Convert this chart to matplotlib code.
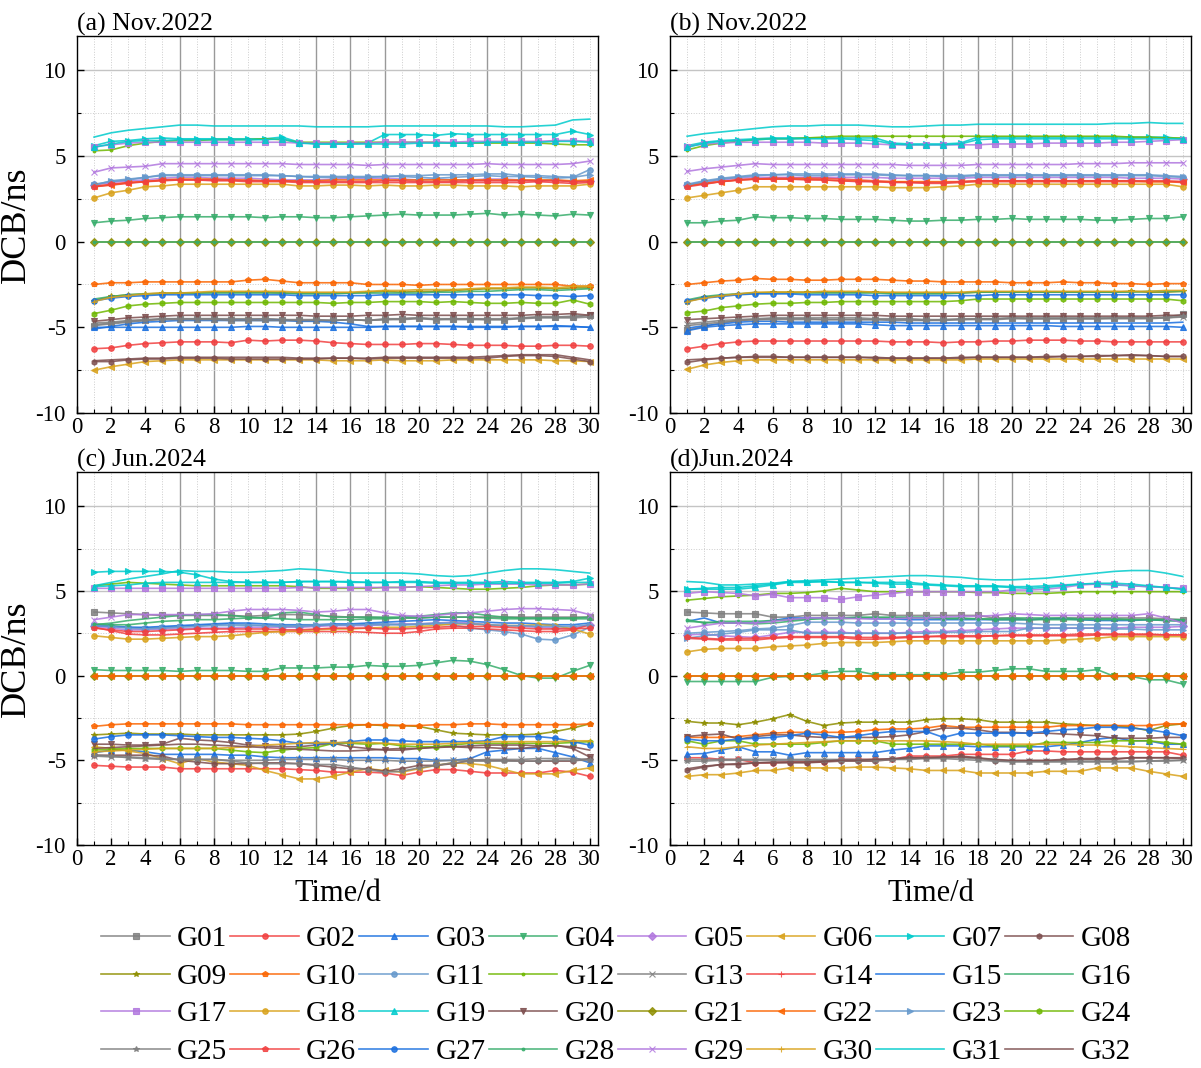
import numpy as np
import matplotlib
matplotlib.use("Agg")
import matplotlib.pyplot as plt
from matplotlib.ticker import MultipleLocator

plt.rcParams['font.family'] = ['Liberation Serif', 'DejaVu Serif']
plt.rcParams['axes.unicode_minus'] = False

days = np.arange(1, 31)
names = ["G%02d" % i for i in range(1, 33)]
titles = ["(a) Nov.2022", "(b) Nov.2022", "(c) Jun.2024", "(d)Jun.2024"]

Z = [0.0] * 30

# panel (a) Nov.2022
dcb_a = [
    [-4.9,-4.8,-4.7,-4.6,-4.5,-4.5,-4.5,-4.5,-4.55,-4.55,-4.5,-4.55,-4.55,-4.55,-4.6,-4.55,-4.6,-4.5,-4.5,-4.45,-4.55,-4.5,-4.5,-4.55,-4.55,-4.45,-4.4,-4.4,-4.4,-4.3],
    [-6.25,-6.2,-6.05,-5.95,-5.9,-5.85,-5.85,-5.85,-5.9,-5.75,-5.8,-5.75,-5.75,-5.8,-5.9,-5.95,-6.0,-6.0,-6.0,-5.95,-5.95,-6.0,-6.05,-6.05,-6.05,-6.1,-6.1,-6.05,-6.05,-6.1],
    [-5.0,-5.0,-5.0,-5.0,-5.0,-5.0,-5.0,-5.0,-5.0,-4.95,-4.95,-5.0,-5.0,-5.0,-5.0,-5.0,-5.0,-4.95,-4.95,-4.95,-4.95,-4.95,-4.95,-4.95,-4.95,-4.95,-4.95,-4.9,-4.95,-5.0],
    [1.1,1.2,1.25,1.35,1.4,1.45,1.45,1.45,1.45,1.45,1.4,1.45,1.45,1.4,1.4,1.45,1.5,1.55,1.6,1.55,1.55,1.55,1.6,1.65,1.55,1.6,1.55,1.5,1.6,1.55],
    [3.3,3.45,3.55,3.6,3.7,3.75,3.75,3.7,3.7,3.7,3.65,3.6,3.6,3.6,3.65,3.7,3.7,3.7,3.65,3.6,3.65,3.6,3.6,3.65,3.65,3.6,3.55,3.6,3.5,3.55],
    [-7.5,-7.3,-7.15,-7.0,-6.95,-6.9,-6.9,-6.9,-6.9,-6.9,-6.9,-6.9,-6.9,-6.9,-6.95,-6.95,-6.95,-6.9,-6.95,-6.95,-6.95,-6.9,-6.9,-6.9,-6.9,-6.9,-6.9,-6.95,-6.95,-7.0],
    [5.6,5.85,5.9,6.0,6.05,6.0,6.0,6.0,6.0,6.0,6.0,6.1,5.8,5.7,5.7,5.7,5.75,6.25,6.25,6.25,6.2,6.3,6.25,6.25,6.25,6.25,6.25,6.25,6.45,6.25],
    [-7.0,-7.0,-6.9,-6.85,-6.85,-6.8,-6.8,-6.8,-6.85,-6.85,-6.85,-6.85,-6.85,-6.85,-6.8,-6.8,-6.85,-6.8,-6.8,-6.8,-6.8,-6.8,-6.8,-6.8,-6.7,-6.65,-6.65,-6.7,-6.85,-7.0],
    [-3.45,-3.2,-3.1,-3.05,-3.0,-3.0,-3.0,-2.95,-2.95,-2.95,-2.95,-3.0,-3.0,-3.0,-3.0,-3.0,-2.95,-2.9,-2.95,-2.9,-2.9,-2.85,-2.8,-2.75,-2.75,-2.7,-2.7,-2.75,-2.7,-2.7],
    [-2.5,-2.4,-2.4,-2.35,-2.35,-2.35,-2.35,-2.35,-2.35,-2.25,-2.2,-2.3,-2.4,-2.4,-2.4,-2.4,-2.5,-2.5,-2.5,-2.55,-2.5,-2.5,-2.5,-2.5,-2.5,-2.5,-2.5,-2.5,-2.6,-2.6],
    [3.35,3.5,3.6,3.75,3.9,3.9,3.9,3.9,3.9,3.9,3.9,3.85,3.8,3.75,3.75,3.75,3.75,3.8,3.8,3.75,3.7,3.75,3.8,3.85,3.8,3.8,3.75,3.7,3.75,4.2],
    [5.3,5.35,5.6,5.75,5.85,5.9,5.9,5.95,5.95,5.95,6.0,5.95,5.8,5.8,5.8,5.8,5.8,5.8,5.8,5.8,5.8,5.75,5.75,5.75,5.75,5.75,5.75,5.7,5.65,5.65],
    [-4.75,-4.7,-4.6,-4.55,-4.5,-4.5,-4.5,-4.5,-4.5,-4.5,-4.5,-4.55,-4.6,-4.6,-4.6,-4.55,-4.6,-4.55,-4.5,-4.45,-4.5,-4.5,-4.5,-4.5,-4.5,-4.45,-4.4,-4.4,-4.35,-4.3],
    [3.2,3.3,3.4,3.5,3.55,3.6,3.6,3.55,3.55,3.5,3.5,3.5,3.45,3.45,3.45,3.45,3.45,3.45,3.45,3.45,3.45,3.45,3.45,3.45,3.45,3.45,3.5,3.45,3.4,3.45],
    [-5.1,-4.95,-4.8,-4.7,-4.65,-4.6,-4.6,-4.6,-4.6,-4.6,-4.6,-4.6,-4.65,-4.65,-4.7,-4.8,-4.95,-4.95,-4.95,-4.95,-4.95,-4.95,-5.0,-5.0,-5.0,-4.95,-4.95,-4.95,-4.95,-5.0],
    [-3.35,-3.2,-3.1,-3.05,-3.05,-3.0,-3.0,-3.0,-3.0,-3.0,-3.0,-3.0,-3.05,-3.05,-3.05,-3.0,-3.0,-3.0,-3.0,-3.0,-2.95,-2.95,-2.9,-2.9,-2.85,-2.8,-2.8,-2.85,-2.8,-2.75],
    [5.55,5.65,5.75,5.8,5.8,5.8,5.8,5.8,5.8,5.8,5.8,5.8,5.75,5.75,5.75,5.75,5.75,5.8,5.8,5.8,5.8,5.8,5.85,5.85,5.85,5.85,5.85,5.9,5.9,5.85],
    [2.55,2.85,3.0,3.2,3.25,3.35,3.35,3.35,3.35,3.35,3.35,3.35,3.25,3.25,3.3,3.3,3.25,3.3,3.25,3.25,3.3,3.3,3.25,3.25,3.25,3.2,3.25,3.25,3.25,3.35],
    [5.5,5.7,5.85,5.9,5.9,5.95,5.95,5.95,5.95,5.95,5.95,6.0,5.75,5.7,5.7,5.7,5.7,5.7,5.7,5.75,5.75,5.75,5.75,5.8,5.8,5.8,5.8,5.85,5.85,5.8],
    [-4.65,-4.55,-4.45,-4.4,-4.35,-4.3,-4.3,-4.3,-4.3,-4.3,-4.3,-4.3,-4.3,-4.35,-4.35,-4.35,-4.3,-4.3,-4.25,-4.3,-4.3,-4.3,-4.3,-4.3,-4.3,-4.3,-4.25,-4.25,-4.2,-4.3],
    Z,
    [3.25,3.3,3.45,3.5,3.6,3.65,3.65,3.65,3.6,3.6,3.55,3.55,3.55,3.55,3.6,3.6,3.6,3.6,3.6,3.6,3.6,3.6,3.6,3.6,3.6,3.6,3.6,3.6,3.55,3.6],
    [3.3,3.55,3.65,3.75,3.85,3.85,3.85,3.85,3.85,3.85,3.85,3.85,3.8,3.8,3.8,3.8,3.8,3.8,3.85,3.85,3.9,3.9,3.9,3.95,3.95,3.85,3.85,3.8,3.75,3.9],
    [-4.2,-4.0,-3.75,-3.65,-3.6,-3.55,-3.55,-3.55,-3.55,-3.55,-3.55,-3.55,-3.55,-3.55,-3.6,-3.55,-3.55,-3.5,-3.5,-3.5,-3.55,-3.5,-3.55,-3.6,-3.6,-3.55,-3.6,-3.6,-3.4,-3.65],
    [-4.85,-4.75,-4.65,-4.6,-4.55,-4.55,-4.55,-4.55,-4.6,-4.6,-4.6,-4.6,-4.6,-4.6,-4.6,-4.55,-4.6,-4.55,-4.55,-4.5,-4.55,-4.55,-4.55,-4.55,-4.55,-4.5,-4.45,-4.45,-4.45,-4.4],
    [3.2,3.35,3.45,3.5,3.6,3.6,3.6,3.6,3.6,3.55,3.55,3.55,3.5,3.5,3.5,3.5,3.5,3.55,3.55,3.5,3.5,3.5,3.55,3.55,3.55,3.55,3.55,3.55,3.5,3.5],
    [-3.45,-3.3,-3.2,-3.15,-3.1,-3.1,-3.1,-3.1,-3.1,-3.1,-3.1,-3.1,-3.15,-3.15,-3.15,-3.15,-3.15,-3.1,-3.1,-3.1,-3.1,-3.1,-3.1,-3.1,-3.1,-3.1,-3.15,-3.15,-3.2,-3.15],
    Z,
    [4.05,4.3,4.35,4.4,4.55,4.55,4.55,4.55,4.55,4.55,4.55,4.55,4.5,4.5,4.5,4.5,4.45,4.5,4.5,4.5,4.5,4.5,4.5,4.55,4.5,4.5,4.5,4.5,4.55,4.7],
    [-3.5,-3.25,-3.15,-3.05,-3.0,-3.0,-2.95,-2.9,-2.9,-2.9,-2.9,-2.9,-2.95,-2.95,-2.95,-2.95,-2.9,-2.85,-2.85,-2.8,-2.8,-2.8,-2.75,-2.7,-2.7,-2.65,-2.65,-2.7,-2.6,-2.6],
    [6.1,6.35,6.5,6.6,6.7,6.8,6.8,6.75,6.75,6.75,6.75,6.75,6.75,6.7,6.7,6.7,6.7,6.75,6.75,6.75,6.75,6.75,6.75,6.75,6.7,6.7,6.75,6.8,7.1,7.15],
    [-6.95,-6.9,-6.85,-6.8,-6.8,-6.75,-6.75,-6.75,-6.75,-6.75,-6.75,-6.75,-6.8,-6.8,-6.8,-6.8,-6.8,-6.75,-6.75,-6.75,-6.75,-6.75,-6.75,-6.7,-6.65,-6.6,-6.6,-6.6,-6.75,-6.9],
]

# panel (b) Nov.2022
dcb_b = [
    [-5.15,-4.95,-4.75,-4.6,-4.55,-4.5,-4.5,-4.5,-4.55,-4.55,-4.55,-4.55,-4.55,-4.55,-4.6,-4.55,-4.55,-4.5,-4.5,-4.45,-4.5,-4.5,-4.5,-4.5,-4.5,-4.45,-4.45,-4.45,-4.4,-4.25],
    [-6.25,-6.1,-5.95,-5.85,-5.8,-5.8,-5.8,-5.8,-5.8,-5.8,-5.8,-5.8,-5.85,-5.85,-5.85,-5.9,-5.85,-5.85,-5.8,-5.8,-5.75,-5.75,-5.75,-5.8,-5.8,-5.85,-5.85,-5.85,-5.85,-5.85],
    [-5.2,-5.0,-4.9,-4.85,-4.8,-4.8,-4.8,-4.8,-4.8,-4.8,-4.8,-4.85,-4.9,-4.9,-4.9,-4.9,-4.9,-4.9,-4.9,-4.9,-4.9,-4.9,-4.95,-4.95,-4.95,-4.95,-4.95,-4.95,-4.95,-5.0],
    [1.1,1.1,1.2,1.25,1.45,1.4,1.4,1.35,1.35,1.3,1.3,1.3,1.25,1.2,1.2,1.25,1.25,1.3,1.3,1.35,1.3,1.3,1.3,1.3,1.25,1.25,1.3,1.35,1.35,1.45],
    [3.3,3.45,3.6,3.7,3.75,3.75,3.75,3.75,3.75,3.75,3.75,3.75,3.7,3.7,3.7,3.7,3.7,3.75,3.75,3.75,3.75,3.75,3.75,3.75,3.75,3.75,3.7,3.7,3.7,3.65],
    [-7.45,-7.2,-7.05,-6.95,-6.9,-6.9,-6.9,-6.9,-6.9,-6.9,-6.9,-6.9,-6.9,-6.9,-6.9,-6.9,-6.9,-6.85,-6.85,-6.85,-6.85,-6.85,-6.85,-6.85,-6.85,-6.85,-6.85,-6.85,-6.85,-6.85],
    [5.6,5.8,5.9,5.95,6.0,6.05,6.05,6.05,6.05,6.05,6.05,6.05,5.75,5.7,5.7,5.7,5.75,6.1,6.1,6.1,6.1,6.1,6.1,6.1,6.1,6.1,6.1,6.1,6.1,6.0],
    [-7.05,-6.9,-6.8,-6.75,-6.7,-6.7,-6.75,-6.75,-6.75,-6.75,-6.75,-6.8,-6.8,-6.8,-6.8,-6.8,-6.75,-6.75,-6.75,-6.75,-6.75,-6.7,-6.7,-6.7,-6.65,-6.65,-6.65,-6.65,-6.7,-6.7],
    [-3.5,-3.25,-3.15,-3.05,-3.0,-2.95,-2.95,-2.95,-2.95,-2.95,-2.95,-2.95,-3.0,-3.0,-3.0,-3.0,-3.0,-2.95,-2.95,-2.95,-2.95,-2.95,-2.95,-2.95,-2.95,-2.95,-2.9,-2.95,-2.95,-2.9],
    [-2.5,-2.4,-2.3,-2.25,-2.15,-2.2,-2.2,-2.25,-2.25,-2.2,-2.2,-2.2,-2.25,-2.3,-2.3,-2.35,-2.35,-2.35,-2.35,-2.4,-2.4,-2.4,-2.35,-2.4,-2.4,-2.45,-2.45,-2.5,-2.45,-2.45],
    [3.35,3.55,3.7,3.8,3.9,3.9,3.9,3.85,3.85,3.9,3.9,3.9,3.85,3.85,3.85,3.8,3.8,3.85,3.85,3.85,3.85,3.85,3.85,3.85,3.85,3.85,3.85,3.85,3.8,3.75],
    [5.35,5.6,5.75,5.85,5.95,6.0,6.0,6.05,6.1,6.15,6.15,6.15,6.15,6.15,6.15,6.15,6.15,6.15,6.15,6.15,6.15,6.15,6.15,6.15,6.15,6.15,6.1,6.1,6.05,6.05],
    [-4.8,-4.7,-4.6,-4.55,-4.5,-4.45,-4.45,-4.45,-4.45,-4.45,-4.45,-4.5,-4.5,-4.5,-4.55,-4.55,-4.5,-4.5,-4.5,-4.45,-4.45,-4.45,-4.45,-4.45,-4.45,-4.45,-4.45,-4.45,-4.45,-4.4],
    [3.25,3.4,3.5,3.6,3.65,3.7,3.7,3.7,3.7,3.65,3.6,3.55,3.5,3.45,3.4,3.4,3.45,3.5,3.5,3.5,3.5,3.5,3.5,3.5,3.5,3.5,3.5,3.5,3.5,3.45],
    [-5.05,-4.9,-4.8,-4.7,-4.65,-4.65,-4.7,-4.7,-4.7,-4.7,-4.7,-4.7,-4.7,-4.75,-4.75,-4.75,-4.75,-4.75,-4.75,-4.75,-4.75,-4.75,-4.75,-4.75,-4.75,-4.75,-4.75,-4.75,-4.75,-4.7],
    [-3.4,-3.2,-3.1,-3.05,-3.0,-3.0,-3.0,-3.0,-3.0,-3.0,-3.0,-3.0,-3.05,-3.05,-3.05,-3.05,-3.0,-2.95,-2.95,-2.95,-2.95,-2.95,-2.95,-2.95,-2.95,-2.95,-2.95,-2.9,-2.9,-2.9],
    [5.55,5.7,5.75,5.8,5.8,5.8,5.8,5.8,5.75,5.75,5.75,5.7,5.65,5.65,5.65,5.65,5.65,5.65,5.7,5.7,5.7,5.75,5.75,5.75,5.75,5.8,5.8,5.85,5.9,5.95],
    [2.55,2.7,2.85,3.0,3.2,3.2,3.2,3.2,3.2,3.2,3.2,3.2,3.15,3.15,3.15,3.2,3.25,3.35,3.35,3.35,3.35,3.35,3.35,3.35,3.35,3.35,3.35,3.35,3.35,3.2],
    [5.5,5.75,5.85,5.9,5.95,6.0,6.0,6.0,6.0,6.0,5.95,5.9,5.7,5.65,5.65,5.65,5.7,5.95,6.0,6.0,6.0,6.0,6.0,6.0,6.0,6.0,6.0,6.0,6.0,6.0],
    [-4.55,-4.5,-4.45,-4.4,-4.35,-4.3,-4.3,-4.3,-4.3,-4.3,-4.3,-4.3,-4.35,-4.35,-4.35,-4.35,-4.35,-4.35,-4.35,-4.35,-4.35,-4.35,-4.35,-4.35,-4.35,-4.35,-4.35,-4.35,-4.3,-4.3],
    Z,
    [3.25,3.4,3.5,3.6,3.65,3.65,3.65,3.65,3.6,3.55,3.55,3.5,3.5,3.5,3.5,3.5,3.5,3.55,3.55,3.55,3.55,3.55,3.55,3.55,3.55,3.55,3.55,3.5,3.5,3.5],
    [3.3,3.5,3.65,3.75,3.85,3.9,3.95,3.95,3.95,3.95,3.95,3.95,3.9,3.85,3.85,3.85,3.85,3.9,3.9,3.9,3.9,3.9,3.9,3.9,3.9,3.9,3.9,3.9,3.85,3.8],
    [-4.15,-4.05,-3.85,-3.75,-3.65,-3.6,-3.6,-3.55,-3.55,-3.5,-3.5,-3.5,-3.5,-3.5,-3.5,-3.5,-3.45,-3.35,-3.35,-3.35,-3.35,-3.35,-3.35,-3.35,-3.35,-3.35,-3.35,-3.35,-3.35,-3.45],
    [-4.9,-4.8,-4.7,-4.6,-4.55,-4.55,-4.55,-4.55,-4.55,-4.55,-4.55,-4.55,-4.6,-4.6,-4.6,-4.6,-4.55,-4.55,-4.55,-4.5,-4.5,-4.5,-4.5,-4.5,-4.5,-4.5,-4.5,-4.5,-4.45,-4.35],
    [3.2,3.35,3.5,3.6,3.65,3.65,3.65,3.6,3.6,3.55,3.5,3.5,3.45,3.45,3.45,3.45,3.5,3.55,3.55,3.55,3.55,3.55,3.55,3.55,3.55,3.55,3.55,3.55,3.55,3.5],
    [-3.45,-3.3,-3.2,-3.1,-3.05,-3.05,-3.05,-3.1,-3.1,-3.1,-3.1,-3.15,-3.15,-3.15,-3.15,-3.15,-3.15,-3.15,-3.1,-3.1,-3.1,-3.1,-3.1,-3.1,-3.1,-3.1,-3.1,-3.1,-3.1,-3.1],
    Z,
    [4.1,4.25,4.35,4.45,4.55,4.5,4.5,4.5,4.5,4.5,4.5,4.5,4.5,4.45,4.45,4.45,4.45,4.5,4.5,4.5,4.5,4.5,4.5,4.55,4.55,4.55,4.6,4.6,4.6,4.6],
    [-3.5,-3.3,-3.15,-3.05,-2.95,-2.95,-2.95,-2.95,-2.9,-2.9,-2.9,-2.95,-2.95,-2.95,-2.95,-2.95,-2.95,-2.9,-2.9,-2.9,-2.9,-2.9,-2.9,-2.9,-2.9,-2.9,-2.9,-2.9,-2.85,-2.85],
    [6.15,6.3,6.4,6.5,6.6,6.7,6.75,6.75,6.8,6.8,6.8,6.75,6.7,6.7,6.75,6.8,6.8,6.85,6.85,6.85,6.85,6.85,6.85,6.85,6.85,6.9,6.9,6.95,6.9,6.9],
    [-6.9,-6.85,-6.8,-6.75,-6.75,-6.75,-6.75,-6.75,-6.75,-6.75,-6.75,-6.75,-6.8,-6.8,-6.8,-6.8,-6.8,-6.75,-6.75,-6.75,-6.75,-6.75,-6.7,-6.7,-6.7,-6.65,-6.6,-6.65,-6.7,-6.7],
]

# panel (c) Jun.2024
dcb_c = [
    [3.75,3.7,3.65,3.6,3.55,3.55,3.55,3.55,3.55,3.5,3.55,3.6,3.6,3.55,3.5,3.45,3.45,3.4,3.4,3.4,3.45,3.45,3.45,3.45,3.45,3.45,3.45,3.45,3.45,3.45],
    [-5.3,-5.35,-5.4,-5.4,-5.4,-5.5,-5.5,-5.5,-5.5,-5.5,-5.5,-5.5,-5.55,-5.6,-5.7,-5.7,-5.7,-5.75,-5.9,-5.7,-5.55,-5.55,-5.65,-5.75,-5.75,-5.75,-5.75,-5.6,-5.7,-5.95],
    [-4.55,-4.4,-4.4,-4.5,-4.65,-4.65,-4.65,-4.65,-4.7,-4.7,-4.8,-4.85,-4.85,-4.85,-4.85,-4.85,-4.85,-4.85,-4.9,-4.9,-5.0,-5.0,-4.9,-4.5,-4.4,-4.3,-4.3,-4.55,-4.8,-5.15],
    [0.35,0.3,0.3,0.3,0.3,0.25,0.3,0.3,0.3,0.25,0.25,0.45,0.45,0.45,0.5,0.5,0.6,0.55,0.55,0.6,0.75,0.9,0.85,0.65,0.35,0.0,-0.15,-0.15,0.25,0.6],
    [2.9,2.8,2.7,2.7,2.75,2.75,2.8,2.8,2.8,2.85,2.85,2.85,2.85,2.9,2.95,2.95,2.95,3.0,3.05,3.05,3.1,3.15,3.1,3.0,2.95,2.9,2.85,2.8,2.8,3.0],
    [-4.2,-4.3,-4.45,-4.6,-4.9,-5.2,-4.9,-5.1,-5.2,-5.3,-5.6,-5.85,-6.1,-6.1,-5.95,-5.7,-5.5,-5.6,-5.7,-5.5,-5.3,-5.15,-5.2,-5.3,-5.55,-5.8,-5.8,-5.8,-5.6,-5.45],
    [6.1,6.15,6.15,6.15,6.15,6.1,5.95,5.7,5.55,5.5,5.5,5.5,5.55,5.55,5.55,5.5,5.5,5.5,5.55,5.55,5.5,5.5,5.5,5.5,5.55,5.5,5.5,5.5,5.55,5.75],
    [-4.7,-4.7,-4.7,-4.7,-4.75,-5.0,-5.1,-5.2,-5.2,-5.2,-5.15,-5.15,-5.2,-5.3,-5.4,-5.5,-5.5,-5.65,-5.5,-5.3,-5.3,-5.2,-5.0,-5.0,-5.0,-5.05,-5.05,-5.05,-5.05,-4.9],
    [-3.5,-3.45,-3.4,-3.45,-3.45,-3.45,-3.5,-3.5,-3.5,-3.5,-3.5,-3.5,-3.45,-3.3,-3.1,-2.95,-2.9,-2.95,-2.95,-3.0,-3.2,-3.4,-3.45,-3.5,-3.5,-3.5,-3.45,-3.3,-3.1,-2.85],
    [-3.0,-2.9,-2.85,-2.85,-2.85,-2.85,-2.85,-2.85,-2.85,-2.9,-2.9,-2.9,-2.9,-2.9,-2.9,-2.9,-2.9,-2.9,-2.95,-2.95,-2.9,-2.9,-2.85,-2.85,-2.9,-2.9,-2.9,-2.9,-2.9,-2.85],
    [3.0,2.95,2.85,2.8,2.85,2.9,2.95,3.0,3.05,3.0,2.95,2.9,2.9,2.95,3.0,3.0,3.05,3.05,3.0,3.0,3.05,3.0,2.8,2.7,2.6,2.45,2.15,2.1,2.4,2.85],
    [5.3,5.4,5.5,5.45,5.4,5.35,5.3,5.3,5.3,5.3,5.3,5.3,5.25,5.15,5.15,5.15,5.15,5.2,5.2,5.25,5.2,5.15,5.1,5.1,5.15,5.2,5.3,5.35,5.35,5.4],
    [-4.75,-4.8,-4.8,-4.85,-4.9,-4.95,-4.95,-4.95,-5.0,-5.0,-5.0,-4.95,-4.95,-4.95,-4.95,-5.0,-5.0,-5.0,-5.05,-5.05,-5.05,-5.0,-5.0,-4.95,-4.95,-4.95,-4.9,-4.9,-4.9,-4.95],
    [2.85,2.65,2.45,2.4,2.4,2.45,2.5,2.55,2.6,2.6,2.6,2.6,2.6,2.6,2.6,2.6,2.55,2.5,2.5,2.6,2.75,2.8,2.8,2.75,2.7,2.65,2.6,2.6,2.7,3.0],
    [2.95,2.9,2.85,2.85,2.9,2.95,3.0,3.05,3.1,3.1,3.05,3.0,3.0,3.0,3.05,3.05,3.1,3.15,3.2,3.25,3.3,3.25,3.2,3.15,3.1,3.1,3.05,3.0,3.0,3.1],
    [3.0,3.1,3.25,3.35,3.45,3.55,3.6,3.6,3.55,3.45,3.4,3.7,3.75,3.6,3.45,3.45,3.45,3.45,3.45,3.5,3.6,3.7,3.7,3.55,3.45,3.4,3.4,3.4,3.4,3.45],
    [5.15,5.15,5.15,5.15,5.15,5.15,5.15,5.15,5.15,5.15,5.15,5.15,5.2,5.2,5.2,5.2,5.2,5.2,5.2,5.25,5.3,5.35,5.35,5.4,5.4,5.4,5.35,5.35,5.35,5.4],
    [2.35,2.25,2.15,2.15,2.2,2.25,2.3,2.3,2.35,2.45,2.55,2.6,2.65,2.7,2.75,2.75,2.8,2.85,2.85,2.9,2.95,3.05,3.05,3.0,2.95,2.95,3.0,2.95,2.75,2.45],
    [5.25,5.3,5.35,5.45,5.5,5.5,5.5,5.5,5.5,5.5,5.5,5.5,5.55,5.55,5.55,5.55,5.5,5.5,5.5,5.5,5.45,5.45,5.45,5.45,5.45,5.45,5.45,5.45,5.5,5.5],
    [-4.05,-4.05,-4.1,-4.1,-4.05,-3.7,-3.8,-3.85,-3.95,-4.1,-4.15,-4.2,-4.2,-4.1,-4.0,-4.2,-4.3,-4.4,-4.4,-4.3,-4.2,-4.2,-4.25,-4.25,-4.3,-4.3,-4.2,-4.1,-4.3,-4.8],
    Z,
    Z,
    [2.95,2.9,2.8,2.75,2.8,2.85,2.9,2.95,2.95,2.95,2.95,2.95,2.95,3.0,3.0,3.0,3.0,3.0,3.0,3.05,3.1,3.1,3.05,3.0,2.95,2.95,2.9,2.9,2.9,3.0],
    [-4.4,-4.35,-4.3,-4.3,-4.3,-4.3,-4.3,-4.3,-4.4,-4.5,-4.55,-4.4,-4.3,-4.25,-4.0,-4.0,-4.05,-4.0,-4.15,-4.2,-4.2,-4.1,-4.0,-4.0,-4.0,-4.0,-4.0,-4.0,-3.95,-3.9],
    [-4.7,-4.75,-4.85,-4.9,-4.95,-4.95,-4.95,-4.95,-5.05,-5.15,-5.2,-5.2,-5.2,-5.25,-5.25,-5.4,-5.55,-5.7,-5.65,-5.45,-5.3,-5.15,-5.05,-5.05,-5.05,-5.05,-5.05,-5.0,-5.0,-5.0],
    [2.8,2.7,2.6,2.6,2.65,2.7,2.75,2.75,2.75,2.75,2.75,2.7,2.7,2.75,2.8,2.8,2.8,2.75,2.75,2.8,2.85,2.9,2.9,2.9,2.85,2.8,2.75,2.75,2.75,2.8],
    [-3.75,-3.6,-3.5,-3.5,-3.5,-3.55,-3.6,-3.65,-3.65,-3.7,-3.75,-3.85,-4.0,-4.0,-4.0,-3.9,-3.8,-3.8,-3.85,-3.9,-3.9,-3.9,-3.9,-3.85,-3.6,-3.6,-3.6,-3.7,-3.9,-4.1],
    [3.05,3.0,3.0,3.1,3.2,3.25,3.3,3.3,3.35,3.4,3.4,3.35,3.3,3.3,3.3,3.3,3.35,3.35,3.4,3.4,3.45,3.45,3.45,3.4,3.35,3.35,3.35,3.35,3.35,3.35],
    [3.3,3.45,3.6,3.6,3.6,3.6,3.6,3.65,3.8,3.9,3.9,3.9,3.85,3.75,3.8,3.9,3.9,3.7,3.55,3.5,3.55,3.65,3.7,3.8,3.9,3.95,3.95,3.9,3.85,3.6],
    [-4.5,-4.45,-4.4,-4.35,-4.3,-4.3,-4.3,-4.3,-4.25,-4.2,-4.1,-4.05,-4.0,-3.95,-3.95,-3.95,-3.95,-4.0,-4.05,-4.05,-4.05,-4.0,-3.95,-3.9,-3.9,-3.9,-3.9,-3.9,-3.85,-3.85],
    [5.3,5.5,5.7,5.85,6.0,6.2,6.15,6.15,6.1,6.1,6.15,6.2,6.3,6.25,6.15,6.05,6.05,6.05,6.05,6.0,5.9,5.85,5.9,6.05,6.2,6.3,6.3,6.25,6.15,6.05],
    [-4.3,-4.25,-4.2,-4.15,-4.1,-4.05,-4.05,-4.1,-4.15,-4.2,-4.25,-4.3,-4.35,-4.4,-4.45,-4.45,-4.4,-4.35,-4.3,-4.3,-4.25,-4.2,-4.15,-4.1,-4.1,-4.1,-4.15,-4.15,-4.2,-4.4],
]

# panel (d) Jun.2024
dcb_d = [
    [3.75,3.7,3.65,3.65,3.65,3.45,3.45,3.55,3.55,3.55,3.55,3.65,3.55,3.55,3.55,3.55,3.55,3.55,3.4,3.4,3.3,3.35,3.4,3.4,3.4,3.4,3.4,3.4,3.35,3.3],
    [-4.85,-4.85,-4.95,-4.95,-5.15,-5.15,-5.1,-5.1,-5.1,-4.95,-4.95,-4.95,-4.95,-4.75,-4.75,-4.75,-4.65,-4.65,-4.65,-4.65,-4.45,-4.45,-4.5,-4.5,-4.5,-4.5,-4.5,-4.5,-4.5,-4.7],
    [-4.65,-4.6,-4.4,-4.2,-4.5,-4.5,-4.7,-4.55,-4.55,-4.55,-4.55,-4.55,-4.4,-4.3,-4.15,-4.15,-4.15,-4.2,-4.2,-4.2,-4.2,-4.2,-4.1,-3.95,-3.75,-3.65,-3.85,-3.85,-4.05,-4.05],
    [-0.35,-0.35,-0.35,-0.35,-0.35,-0.1,-0.05,0.0,0.15,0.25,0.25,0.05,0.05,0.05,0.05,0.05,0.2,0.2,0.3,0.4,0.4,0.25,0.25,0.25,0.35,-0.05,-0.05,-0.25,-0.25,-0.5],
    [2.4,2.45,2.35,2.3,2.25,2.4,2.55,2.55,2.55,2.55,2.5,2.5,2.5,2.55,2.6,2.6,2.65,2.7,2.75,2.8,2.8,2.8,2.8,2.8,2.8,2.8,2.85,2.85,2.85,2.9],
    [-5.95,-5.85,-5.85,-5.75,-5.6,-5.6,-5.45,-5.45,-5.45,-5.45,-5.4,-5.4,-5.45,-5.5,-5.6,-5.6,-5.6,-5.75,-5.75,-5.75,-5.75,-5.65,-5.65,-5.65,-5.45,-5.45,-5.45,-5.65,-5.8,-5.95],
    [5.1,5.15,5.2,5.2,5.3,5.4,5.55,5.55,5.55,5.5,5.5,5.5,5.5,5.5,5.4,5.35,5.3,5.3,5.3,5.25,5.25,5.3,5.35,5.4,5.4,5.35,5.3,5.25,5.2,5.1],
    [-5.6,-5.4,-5.25,-5.25,-5.15,-5.15,-5.15,-5.15,-5.1,-5.05,-5.05,-5.05,-4.95,-4.85,-4.85,-4.85,-4.75,-4.85,-5.05,-5.05,-5.05,-5.05,-5.0,-4.95,-4.95,-4.95,-4.85,-4.85,-4.85,-4.85],
    [-2.7,-2.8,-2.8,-2.9,-2.75,-2.55,-2.3,-2.7,-2.95,-2.8,-2.75,-2.75,-2.75,-2.75,-2.6,-2.55,-2.55,-2.6,-2.75,-2.75,-2.75,-2.75,-2.85,-2.9,-2.95,-2.95,-3.05,-3.25,-2.95,-2.85],
    [-3.65,-3.65,-3.65,-3.6,-3.5,-3.4,-3.35,-3.35,-3.35,-3.35,-3.3,-3.2,-3.15,-3.15,-3.1,-2.95,-3.05,-3.05,-3.05,-3.05,-3.05,-3.05,-2.95,-2.95,-2.95,-2.95,-2.95,-2.95,-2.85,-2.85],
    [2.5,2.55,2.6,2.65,2.75,2.8,2.95,3.15,3.15,3.15,3.1,3.1,3.1,3.1,3.1,3.1,3.1,3.1,3.1,3.1,3.05,3.0,3.0,3.0,3.0,3.0,3.0,3.0,3.0,3.0],
    [4.45,4.55,4.65,4.7,4.75,4.85,4.85,4.9,5.0,5.15,5.05,4.95,4.95,4.95,4.95,4.95,4.95,4.9,4.9,4.85,4.85,4.85,4.9,4.95,4.95,4.95,4.95,4.95,4.95,4.95],
    [-4.95,-4.95,-4.95,-4.95,-4.95,-4.95,-4.95,-4.95,-4.95,-4.95,-4.95,-4.95,-4.95,-4.9,-4.85,-4.85,-4.85,-4.9,-4.95,-5.05,-5.05,-5.05,-5.05,-5.05,-5.05,-5.05,-5.05,-5.05,-5.0,-5.0],
    [2.2,2.15,2.1,2.1,2.1,2.2,2.25,2.25,2.25,2.25,2.15,2.15,2.2,2.25,2.3,2.3,2.3,2.3,2.35,2.35,2.35,2.35,2.35,2.35,2.4,2.4,2.4,2.4,2.4,2.4],
    [3.2,3.4,3.1,3.1,3.1,3.25,3.4,3.4,3.4,3.4,3.4,3.35,3.35,3.3,3.3,3.3,3.3,3.3,3.3,3.3,3.3,3.35,3.35,3.3,3.25,3.25,3.25,3.3,3.25,3.25],
    [3.2,3.15,3.1,3.1,3.05,3.1,3.2,3.3,3.4,3.4,3.45,3.45,3.45,3.45,3.45,3.4,3.4,3.35,3.35,3.4,3.4,3.4,3.4,3.35,3.35,3.35,3.3,3.3,3.25,3.2],
    [4.85,4.95,4.9,4.85,4.7,4.8,4.6,4.6,4.6,4.5,4.65,4.75,4.85,4.95,4.95,4.95,4.95,4.95,4.95,5.05,5.05,5.1,5.2,5.35,5.4,5.4,5.3,5.25,5.2,5.15],
    [1.4,1.55,1.6,1.6,1.6,1.7,1.75,1.8,1.9,1.95,1.95,1.95,2.0,2.05,2.05,2.05,2.05,2.05,2.05,2.05,2.05,2.05,2.1,2.15,2.2,2.3,2.3,2.3,2.3,2.3],
    [5.1,5.1,5.1,5.1,5.2,5.35,5.5,5.5,5.55,5.5,5.5,5.45,5.4,5.4,5.35,5.3,5.25,5.25,5.25,5.2,5.15,5.2,5.3,5.4,5.45,5.45,5.4,5.3,5.2,5.1],
    [-3.6,-3.5,-3.45,-3.75,-3.6,-3.5,-3.5,-3.6,-3.65,-3.65,-3.65,-3.65,-3.6,-3.5,-3.3,-3.1,-3.1,-3.2,-3.35,-3.35,-3.4,-3.4,-3.45,-3.5,-3.55,-3.7,-3.7,-3.7,-3.65,-3.65],
    Z,
    Z,
    [2.2,2.35,2.45,2.55,2.7,2.7,2.7,2.5,2.5,2.5,2.5,2.5,2.5,2.5,2.5,2.55,2.55,2.6,2.6,2.6,2.8,2.8,2.8,2.8,2.8,2.75,2.75,2.7,2.7,2.7],
    [-3.85,-4.05,-3.85,-3.85,-4.05,-4.05,-4.05,-4.05,-3.95,-3.85,-3.85,-3.85,-4.05,-4.05,-4.05,-4.05,-4.05,-4.05,-4.15,-4.15,-4.15,-3.95,-3.95,-3.95,-3.95,-3.85,-3.85,-3.85,-3.95,-4.05],
    [-5.05,-5.05,-5.0,-5.0,-5.0,-5.0,-5.0,-5.0,-5.0,-5.0,-5.0,-5.0,-4.95,-4.95,-4.9,-4.9,-4.95,-5.0,-5.05,-5.1,-5.1,-5.1,-5.1,-5.1,-5.1,-5.1,-5.1,-5.05,-5.05,-5.0],
    [2.25,2.2,2.15,2.2,2.2,2.25,2.3,2.3,2.3,2.3,2.25,2.25,2.25,2.3,2.3,2.35,2.35,2.35,2.35,2.4,2.4,2.4,2.4,2.45,2.45,2.45,2.45,2.45,2.4,2.4],
    [-3.75,-3.85,-3.85,-3.75,-3.7,-3.65,-3.55,-3.4,-3.5,-3.65,-3.55,-3.4,-3.3,-3.3,-3.3,-3.65,-3.4,-3.4,-3.4,-3.4,-3.4,-3.3,-3.2,-3.15,-3.05,-3.05,-3.1,-3.2,-3.35,-3.55],
    [3.3,3.1,3.2,3.2,3.2,3.25,3.3,3.35,3.35,3.35,3.4,3.4,3.4,3.4,3.4,3.35,3.35,3.35,3.3,3.3,3.3,3.3,3.3,3.3,3.3,3.3,3.3,3.3,3.3,3.3],
    [2.8,2.95,3.1,3.1,3.1,3.2,3.3,3.4,3.4,3.4,3.35,3.35,3.35,3.4,3.4,3.45,3.5,3.5,3.55,3.65,3.6,3.55,3.55,3.55,3.55,3.55,3.55,3.65,3.4,3.1],
    [-4.2,-4.3,-4.3,-4.2,-4.1,-4.05,-4.0,-3.95,-3.9,-3.85,-3.85,-3.85,-3.85,-3.85,-3.85,-3.9,-3.95,-4.05,-4.05,-4.05,-4.05,-4.05,-4.05,-4.1,-4.1,-4.15,-4.2,-4.25,-4.3,-4.35],
    [5.55,5.5,5.35,5.35,5.4,5.45,5.55,5.6,5.65,5.7,5.75,5.8,5.85,5.9,5.9,5.85,5.8,5.7,5.65,5.65,5.7,5.75,5.85,5.95,6.05,6.15,6.2,6.2,6.05,5.85],
    [-5.5,-5.35,-5.25,-5.2,-5.15,-5.1,-5.1,-5.1,-5.05,-5.0,-5.0,-4.95,-4.9,-4.85,-4.85,-4.8,-4.8,-4.85,-4.95,-5.0,-5.0,-5.0,-4.95,-4.9,-4.9,-4.9,-4.85,-4.85,-4.85,-4.9],
]

colors = ['#7f7f7f', '#f14040', '#1a6fdf', '#37ad6b', '#b177de', '#d9a21c',
          '#00cbcc', '#7d4e4e', '#8e8e00', '#fb6501', '#6699cc', '#6fb802']
markers = ['s', 'o', '^', 'v', 'D', '<', '>', 'h', '*', 'p', 'o', '.', 'x', '+', None, None]

# vertical grid lines that show up darker in the original
dark_x = [[6, 8, 14, 16, 18, 24, 26], [10, 16, 18, 20, 28],
          [6, 8, 14, 16, 18, 24, 26], [10, 14, 16, 18, 20, 28]]

fig = plt.figure(figsize=(12.01, 10.68), dpi=100)
pos = [[0.0641, 0.6133, 0.434, 0.353], [0.5579, 0.6133, 0.434, 0.353],
       [0.0641, 0.2088, 0.434, 0.349], [0.5579, 0.2088, 0.434, 0.349]]
panels = [dcb_a, dcb_b, dcb_c, dcb_d]

handles = []
for k, data in enumerate(panels):
    ax = fig.add_axes(pos[k])
    for x in range(1, 31):
        if x in dark_x[k]:
            ax.axvline(x, color='#999999', lw=1.0, zorder=0)
        else:
            ax.axvline(x, color='#cccccc', lw=0.7, ls=':', zorder=0)
    for y in [10, 5]:
        ax.axhline(y, color='#c4c4c4', lw=1.0, zorder=0)
    for y in [7.5, 2.5, -2.5, -7.5]:
        ax.axhline(y, color='#cccccc', lw=0.7, ls=':', zorder=0)

    for i, vals in enumerate(data):
        ln, = ax.plot(days, vals, color=colors[i % 12], marker=markers[i % 16],
                      ms=4, mew=0.8, lw=1.2, alpha=0.85, label=names[i])
        if k == 0:
            handles.append(ln)

    ax.set_xlim(0, 30.5)
    ax.set_ylim(-10, 12)
    ax.xaxis.set_major_locator(MultipleLocator(2))
    ax.xaxis.set_minor_locator(MultipleLocator(1))
    ax.yaxis.set_major_locator(MultipleLocator(5))
    ax.yaxis.set_minor_locator(MultipleLocator(2.5))
    ax.tick_params(which='both', direction='in', labelsize=16.5)
    ax.tick_params(which='major', length=5, width=1)
    ax.tick_params(axis='y', which='major', pad=8)
    ax.tick_params(axis='x', which='major', pad=3)
    ax.tick_params(which='minor', length=3, width=0.8)
    for s in ax.spines.values():
        s.set_linewidth(1.0)
    ax.text(0, 1.0, titles[k], transform=ax.transAxes, fontsize=18.5,
            ha='left', va='bottom')
    if k % 2 == 0:
        ax.set_ylabel("DCB/ns", fontsize=26, labelpad=2)
    if k >= 2:
        ax.set_xlabel("Time/d", fontsize=22, labelpad=6)

order = [handles[r * 8 + c] for c in range(8) for r in range(4)]
fig.legend(order, [h.get_label() for h in order], ncol=8, loc='center',
           bbox_to_anchor=(0.513, 0.068), frameon=False, fontsize=21,
           handlelength=2.35, handletextpad=0.25, columnspacing=0.1,
           labelspacing=0.38, borderaxespad=0)

fig.savefig("out.png", dpi=100)
